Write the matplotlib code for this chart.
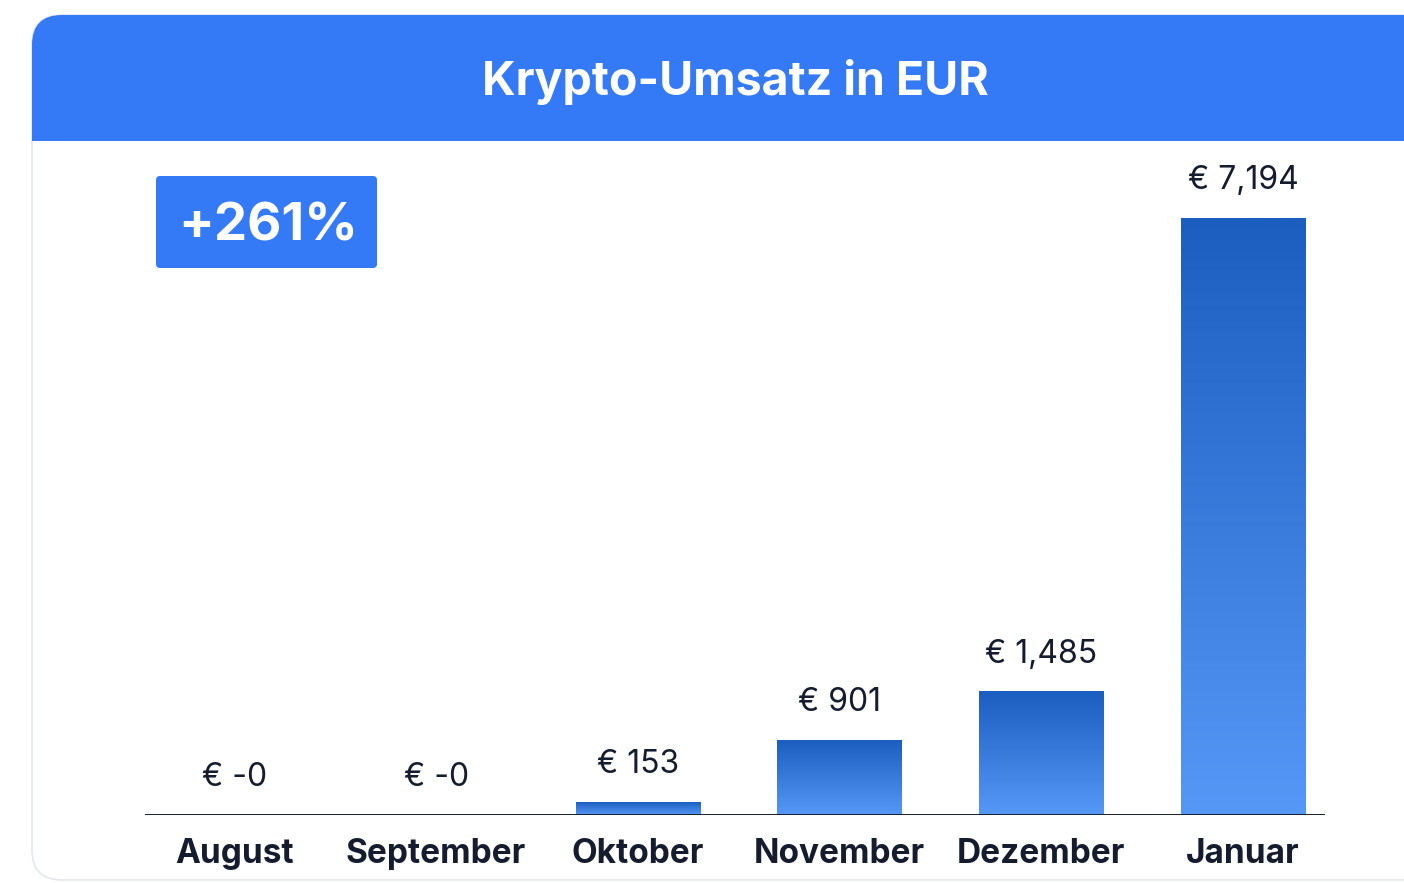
import numpy as np
import matplotlib.pyplot as plt
from matplotlib.colors import LinearSegmentedColormap
from matplotlib.patches import FancyBboxPatch, Rectangle

months = ["August", "September", "Oktober", "November", "Dezember", "Januar"]
values = [-0.0, -0.0, 153, 901, 1485, 7194]
title = "Krypto-Umsatz in EUR"
growth = "+261%"

plt.rcParams["font.family"] = ["Inter", "DejaVu Sans"]

W, H = 1404, 883
BLUE = "#3479f6"
INK = "#141c2e"

fig = plt.figure(figsize=(W / 100, H / 100), dpi=100)
fig.patch.set_facecolor("white")
inch = fig.dpi_scale_trans  # 1 inch == 100 px here

# card with a faint border, blue header with rounded top-left corner
card = FancyBboxPatch((0.32, 0.03), 15, 8.65, boxstyle="round,pad=0,rounding_size=0.3",
                      transform=inch, facecolor="white", edgecolor="#e4e6ea", lw=1.2)
fig.add_artist(card)
header = FancyBboxPatch((0.32, 7.0), 15, 1.68, boxstyle="round,pad=0,rounding_size=0.3",
                        transform=inch, facecolor=BLUE, edgecolor="none")
fig.add_artist(header)
clip = Rectangle((0, 7.42), 16, 2, transform=inch)
header.set_clip_path(clip)
fig.text(7.35, 8.01, title, transform=inch, ha="center", va="center",
         color="white", fontsize=33.5, fontweight="bold")

# growth badge
badge = FancyBboxPatch((1.56, 6.15), 2.21, 0.92, boxstyle="round,pad=0,rounding_size=0.04",
                       transform=inch, facecolor=BLUE, edgecolor="none")
fig.add_artist(badge)
fig.text(2.685, 6.56, growth, transform=inch, ha="center", va="center",
         color="white", fontsize=38, fontweight="bold")

# bar area
ax = fig.add_axes([145 / W, (H - 815) / H, (1325 - 145) / W, (815 - 218) / H])
ax.set_zorder(5)
ax.set_facecolor("none")
for s in ax.spines.values():
    s.set_visible(False)
ax.set_xticks([])
ax.set_yticks([])

x = np.arange(len(months))
bw = 0.615
cmap = LinearSegmentedColormap.from_list("bar", ["#5698f6", "#1b5ec0"])
grad = np.linspace(0, 1, 256).reshape(-1, 1)
for xi, v in zip(x, values):
    if v > 0:
        ax.imshow(grad, extent=[xi - bw / 2, xi + bw / 2, 0, v], origin="lower",
                  aspect="auto", cmap=cmap, zorder=2)
    ax.annotate(f"€ {v:,.0f}", (xi, max(v, 0)), xytext=(0, 27), textcoords="offset points",
                ha="center", va="center", fontsize=23, color=INK, annotation_clip=False)
    ax.annotate(months[xi], (xi, 0), xytext=(0, -28), textcoords="offset points",
                ha="center", va="center", fontsize=24, fontweight="bold", color=INK,
                annotation_clip=False)

ax.axhline(0, color=INK, lw=2.1, zorder=3)
ax.set_xlim(-0.443, 5.407)
ax.set_ylim(0, max(values))

fig.savefig("out.png", dpi=100)
